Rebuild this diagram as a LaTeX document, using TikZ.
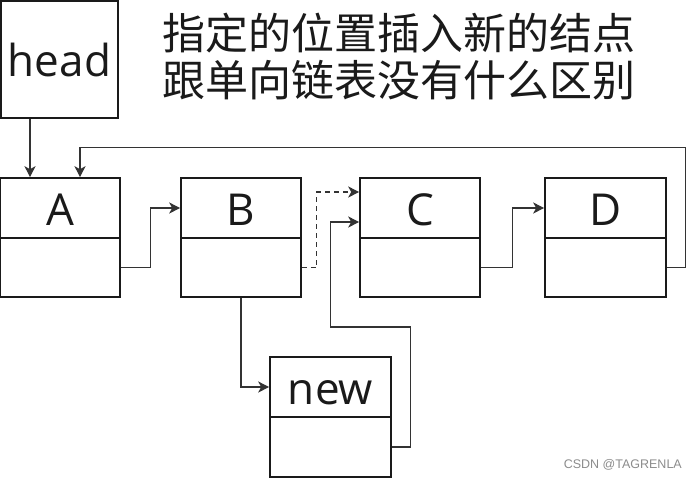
\documentclass[tikz,border=0pt]{standalone}
\usepackage{fontspec}
\newfontfamily\cjk{Noto Sans CJK SC}
\newfontfamily\lab{Open Sans}
\newfontfamily\wm{Liberation Sans}
\usetikzlibrary{arrows.meta}
\definecolor{ink}{HTML}{1A1A1A}
\definecolor{wire}{HTML}{333333}
\tikzset{
  box/.style={draw=ink, line width=1.6pt, minimum width=120pt, minimum height=60pt, inner sep=0pt, text height=34pt, text depth=0pt, font=\lab\fontsize{44}{44}\selectfont, text=ink},
  conn/.style={draw=wire, line width=1.3pt, -{Stealth[length=11pt,width=11pt,inset=3pt]}},
  title/.style={anchor=west, inner sep=0pt, font=\cjk\fontsize{43}{43}\selectfont, text=ink},
}
\begin{document}
\begin{tikzpicture}[x=1pt,y=-1pt]
\useasboundingbox (0,0) rectangle (696,479);
\fill[white] (0,0) rectangle (696,479);
\node[box, minimum width=117pt, minimum height=117pt] (head) at (59.5,59.5) {head};
\node[box] (At) at (60,208) {A};
\node[box, minimum height=59pt] (Ab) at (60,267.5) {};
\node[box] (Bt) at (241,208) {B};
\node[box, minimum height=59pt] (Bb) at (241,267.5) {};
\node[box] (Ct) at (420,208) {C};
\node[box, minimum height=59pt] (Cb) at (420,267.5) {};
\node[box, minimum width=121pt] (Dt) at (605.5,208) {D};
\node[box, minimum width=121pt, minimum height=59pt] (Db) at (605.5,267.5) {};
\node[box, minimum width=121pt] (Nt) at (330.5,387) {new};
\node[box, minimum width=121pt] (Nb) at (330.5,447) {};
\node[title] (t1) at (162,33) {指定的位置插入新的结点};
\node[title] (t2) at (162,80) {跟单向链表没有什么区别};
\node[anchor=east, inner sep=0pt, font=\wm\fontsize{12.5}{12.5}\selectfont, text=black!45] (wm) at (682,465) {CSDN @TAGRENLA};
% connectors
\draw[conn] ([xshift=-29.5pt]head.south) -- ([xshift=-30pt]At.north);
\draw[conn] (Db.east) -- ++(19,0) -- ++(0,-120) -| ([xshift=20pt]At.north);
\draw[conn] (Ab.east) -- ++(30,0) |- (Bt.west);
\draw[conn, dashed, dash pattern=on 5pt off 4pt] (Bb.east) -- ++(15,0) |- ([yshift=16pt]Ct.west);
\draw[conn] (Bb.south) |- (Nt.west);
\draw[conn] (Nb.east) -- ++(19,0) -- ++(0,-120) -- ++(-80,0) |- ([yshift=-14pt]Ct.west);
\draw[conn] (Cb.east) -- ++(32,0) |- (Dt.west);
\end{tikzpicture}
\end{document}
